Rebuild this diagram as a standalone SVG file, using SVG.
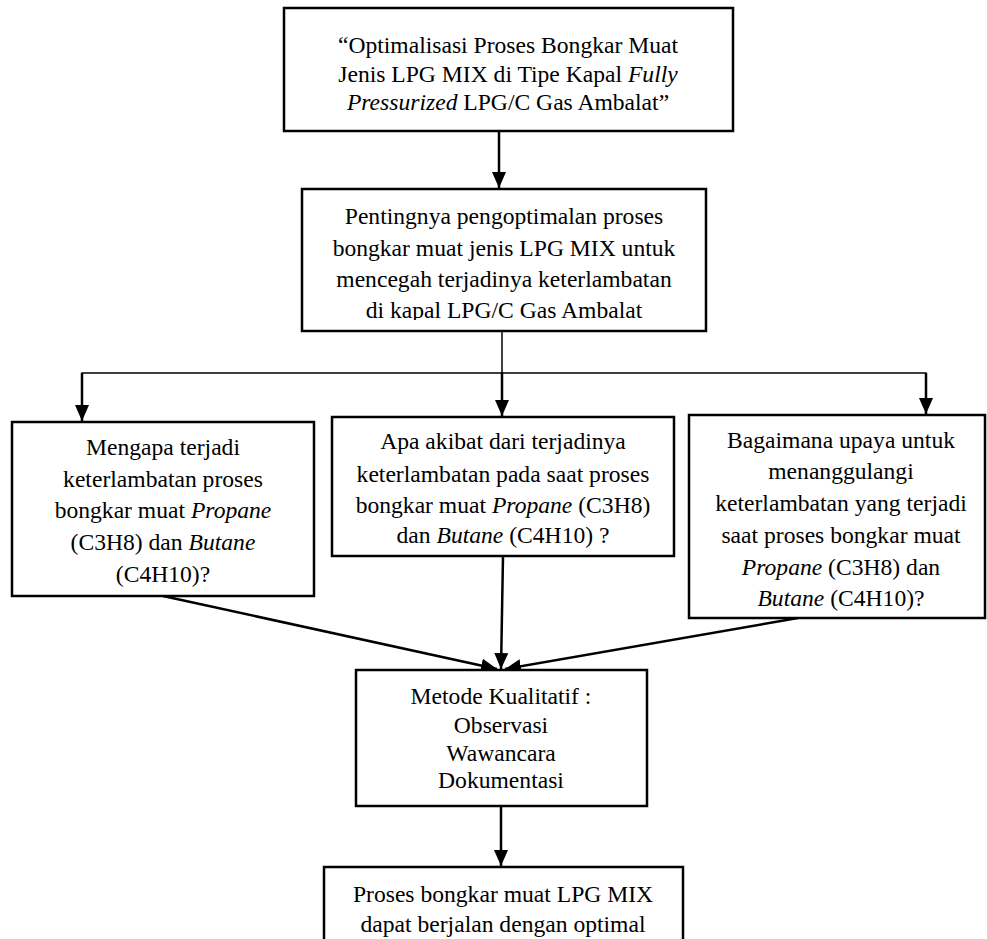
<svg xmlns="http://www.w3.org/2000/svg" width="987" height="939" viewBox="0 0 987 939">
<style>
.box{fill:#fff;stroke:#000;stroke-width:2.5}
.t{font-family:"Liberation Serif","Times New Roman",serif;font-size:23.6px;fill:#000;text-anchor:middle}
.i{font-style:italic}
.thin{stroke:#000;stroke-width:1.5;fill:none}
.arr{stroke:#000;stroke-width:2.5;fill:none}
.head{fill:#000}
</style>
<defs>
<marker id="ah" markerUnits="userSpaceOnUse" markerWidth="16" markerHeight="16" viewBox="0 0 16 16" refX="16" refY="8" orient="auto">
<path d="M0,1 L16,8 L0,15 Z" class="head"/>
</marker>
<clipPath id="c2"><rect x="302" y="189" width="404" height="131"/></clipPath>
</defs>
<g id="connectors">
<line class="arr" x1="499" y1="131" x2="499" y2="188" marker-end="url(#ah)"/>
<line class="thin" x1="502" y1="331" x2="502" y2="373"/>
<polyline class="thin" points="82,407 82,373 926,373 926,400"/>
<line class="arr" x1="82" y1="373" x2="82" y2="421" marker-end="url(#ah)"/>
<line class="arr" x1="502" y1="372" x2="502" y2="416" marker-end="url(#ah)"/>
<line class="arr" x1="926" y1="373" x2="926" y2="414" marker-end="url(#ah)"/>
<line class="arr" x1="163" y1="596" x2="497" y2="669" marker-end="url(#ah)"/>
<line class="arr" x1="503" y1="556" x2="501" y2="669" marker-end="url(#ah)"/>
<line class="arr" x1="798" y1="618" x2="505" y2="669" marker-end="url(#ah)"/>
<line class="arr" x1="501" y1="806" x2="501" y2="866" marker-end="url(#ah)"/>
</g>
<g id="node-title">
<rect class="box" x="284" y="8" width="449" height="123"/>
<text class="t" x="508" y="53">“Optimalisasi Proses Bongkar Muat</text>
<text class="t" x="508" y="82">Jenis LPG MIX di Tipe Kapal <tspan class="i">Fully</tspan></text>
<text class="t" x="508" y="110"><tspan class="i">Pressurized</tspan> LPG/C Gas Ambalat”</text>
</g>
<g id="node-background">
<rect class="box" x="302" y="189" width="404" height="142"/>
<g clip-path="url(#c2)">
<text class="t" x="504" y="224">Pentingnya pengoptimalan proses</text>
<text class="t" x="504" y="256">bongkar muat jenis LPG MIX untuk</text>
<text class="t" x="504" y="287">mencegah terjadinya keterlambatan</text>
<text class="t" x="504" y="318">di kapal LPG/C Gas Ambalat</text>
</g>
</g>
<g id="node-q1">
<rect class="box" x="12" y="422" width="302" height="174"/>
<text class="t" x="163" y="455">Mengapa terjadi</text>
<text class="t" x="163" y="487">keterlambatan proses</text>
<text class="t" x="163" y="518">bongkar muat <tspan class="i">Propane</tspan></text>
<text class="t" x="163" y="550">(C3H8) dan <tspan class="i">Butane</tspan></text>
<text class="t" x="163" y="582">(C4H10)?</text>
</g>
<g id="node-q2">
<rect class="box" x="332" y="417" width="342" height="139"/>
<text class="t" x="503" y="449">Apa akibat dari terjadinya</text>
<text class="t" x="503" y="482">keterlambatan pada saat proses</text>
<text class="t" x="503" y="513">bongkar muat <tspan class="i">Propane</tspan> (C3H8)</text>
<text class="t" x="503" y="543">dan <tspan class="i">Butane</tspan> (C4H10) ?</text>
</g>
<g id="node-q3">
<rect class="box" x="689" y="415" width="296" height="203"/>
<text class="t" x="841" y="448">Bagaimana upaya untuk</text>
<text class="t" x="841" y="479">menanggulangi</text>
<text class="t" x="841" y="511">keterlambatan yang terjadi</text>
<text class="t" x="841" y="543">saat proses bongkar muat</text>
<text class="t" x="841" y="575"><tspan class="i">Propane</tspan> (C3H8) dan</text>
<text class="t" x="841" y="606"><tspan class="i">Butane</tspan> (C4H10)?</text>
</g>
<g id="node-method">
<rect class="box" x="356" y="670" width="291" height="136"/>
<text class="t" x="501" y="704">Metode Kualitatif :</text>
<text class="t" x="501" y="733">Observasi</text>
<text class="t" x="501" y="761">Wawancara</text>
<text class="t" x="501" y="788">Dokumentasi</text>
</g>
<g id="node-result">
<rect class="box" x="324" y="867" width="359" height="90"/>
<text class="t" x="503" y="902">Proses bongkar muat LPG MIX</text>
<text class="t" x="503" y="932">dapat berjalan dengan optimal</text>
</g>
</svg>
